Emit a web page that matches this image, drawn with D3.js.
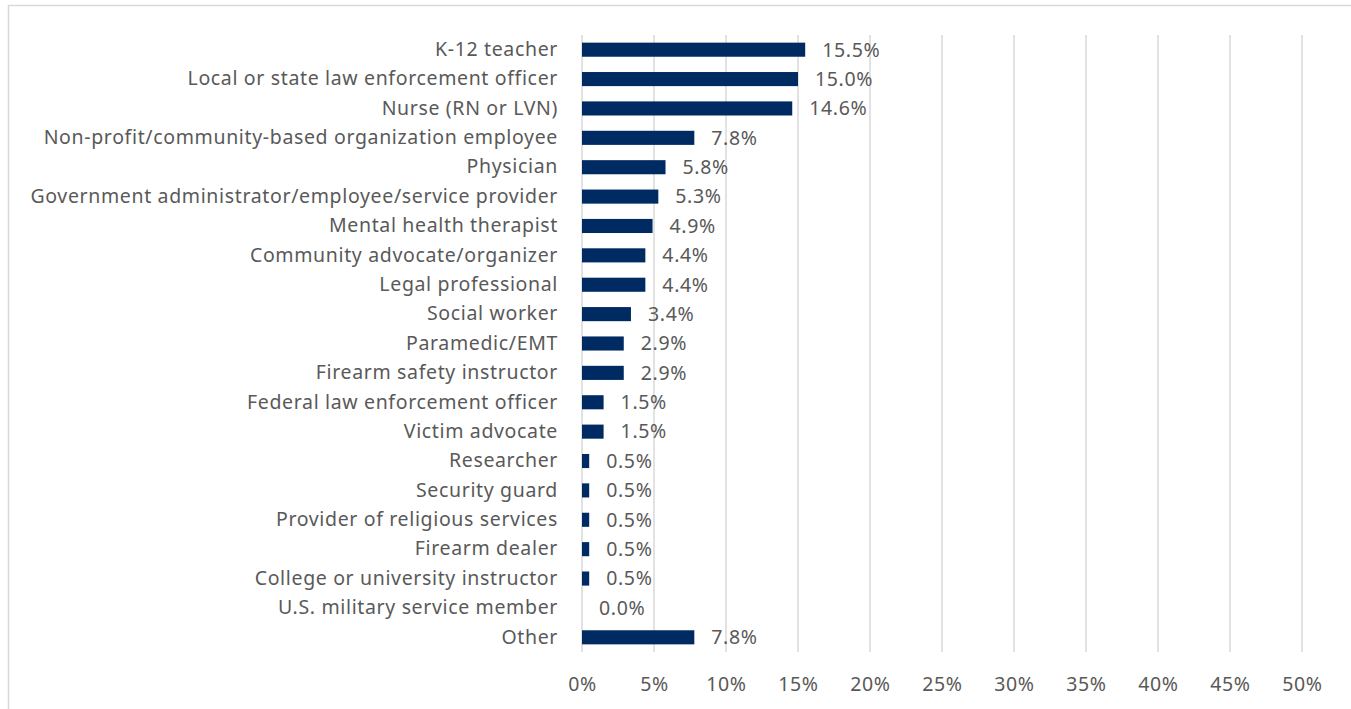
<!DOCTYPE html>
<html>
<head>
<meta charset="utf-8">
<script src="https://cdn.jsdelivr.net/npm/d3@7"></script>
<style>
  html, body { margin: 0; padding: 0; background: #fff; }
  svg { display: block; }
  text { font-family: "Noto Sans", "Open Sans", sans-serif; fill: #595959; letter-spacing: 0.65px; }
</style>
</head>
<body>
<svg id="chart" width="1351" height="709"></svg>
<script>
// Occupations, top to bottom
const categories = [
  "K-12 teacher",
  "Local or state law enforcement officer",
  "Nurse (RN or LVN)",
  "Non-profit/community-based organization employee",
  "Physician",
  "Government administrator/employee/service provider",
  "Mental health therapist",
  "Community advocate/organizer",
  "Legal professional",
  "Social worker",
  "Paramedic/EMT",
  "Firearm safety instructor",
  "Federal law enforcement officer",
  "Victim advocate",
  "Researcher",
  "Security guard",
  "Provider of religious services",
  "Firearm dealer",
  "College or university instructor",
  "U.S. military service member",
  "Other"
];
// Share of respondents (%)
const values = [15.5, 15.0, 14.6, 7.8, 5.8, 5.3, 4.9, 4.4, 4.4, 3.4, 2.9, 2.9, 1.5, 1.5, 0.5, 0.5, 0.5, 0.5, 0.5, 0.0, 7.8];
// Axis ticks (%)
const ticks = [0, 5, 10, 15, 20, 25, 30, 35, 40, 45, 50];

(function () {
  const svg = d3.select("#chart");
  const W = 1351, H = 709;
  const plotL = 582, plotR = 1302, plotT = 35, plotB = 652;
  const fontSize = 19.5;

  // Outer chart frame (extends past the right and bottom edges)
  svg.append("rect")
    .attr("x", 8.5).attr("y", 5.5)
    .attr("width", W + 20).attr("height", H + 20)
    .attr("fill", "none").attr("stroke", "#d9d9d9").attr("stroke-width", 1.5);

  const x = d3.scaleLinear().domain([0, 50]).range([plotL, plotR]);
  const y = d3.scaleBand().domain(categories).range([plotT, plotB]).paddingInner(0.52).paddingOuter(0.26);

  // Vertical gridlines
  svg.append("g").selectAll("line").data(ticks).join("line")
    .attr("x1", d => x(d)).attr("x2", d => x(d))
    .attr("y1", plotT).attr("y2", plotB)
    .attr("stroke", "#d9d9d9").attr("stroke-width", 1.5);

  // X axis tick labels
  const xAxis = d3.axisBottom(x).tickValues(ticks).tickFormat(d => d + "%").tickSize(0).tickPadding(0);
  const gx = svg.append("g").attr("transform", `translate(0,${plotB + 25})`).call(xAxis);
  gx.select(".domain").remove();
  gx.selectAll("text").attr("font-size", fontSize).attr("font-family", null).attr("fill", "#595959");

  // Y axis category labels
  const yAxis = d3.axisLeft(y).tickSize(0).tickPadding(24);
  const gy = svg.append("g").attr("transform", `translate(${plotL},0)`).call(yAxis);
  gy.select(".domain").remove();
  gy.selectAll("text").attr("font-size", fontSize).attr("font-family", null).attr("fill", "#595959");

  // Bars
  svg.append("g").selectAll("rect").data(values).join("rect")
    .attr("x", x(0))
    .attr("y", (d, i) => y(categories[i]))
    .attr("width", d => x(d) - x(0))
    .attr("height", y.bandwidth())
    .attr("fill", "#002b62");

  // Value labels
  svg.append("g").selectAll("text").data(values).join("text")
    .attr("x", d => x(d) + 17)
    .attr("y", (d, i) => y(categories[i]) + y.bandwidth() / 2)
    .attr("dy", "0.35em")
    .attr("font-size", fontSize)
    .text(d => d.toFixed(1) + "%");
})();
</script>
</body>
</html>
